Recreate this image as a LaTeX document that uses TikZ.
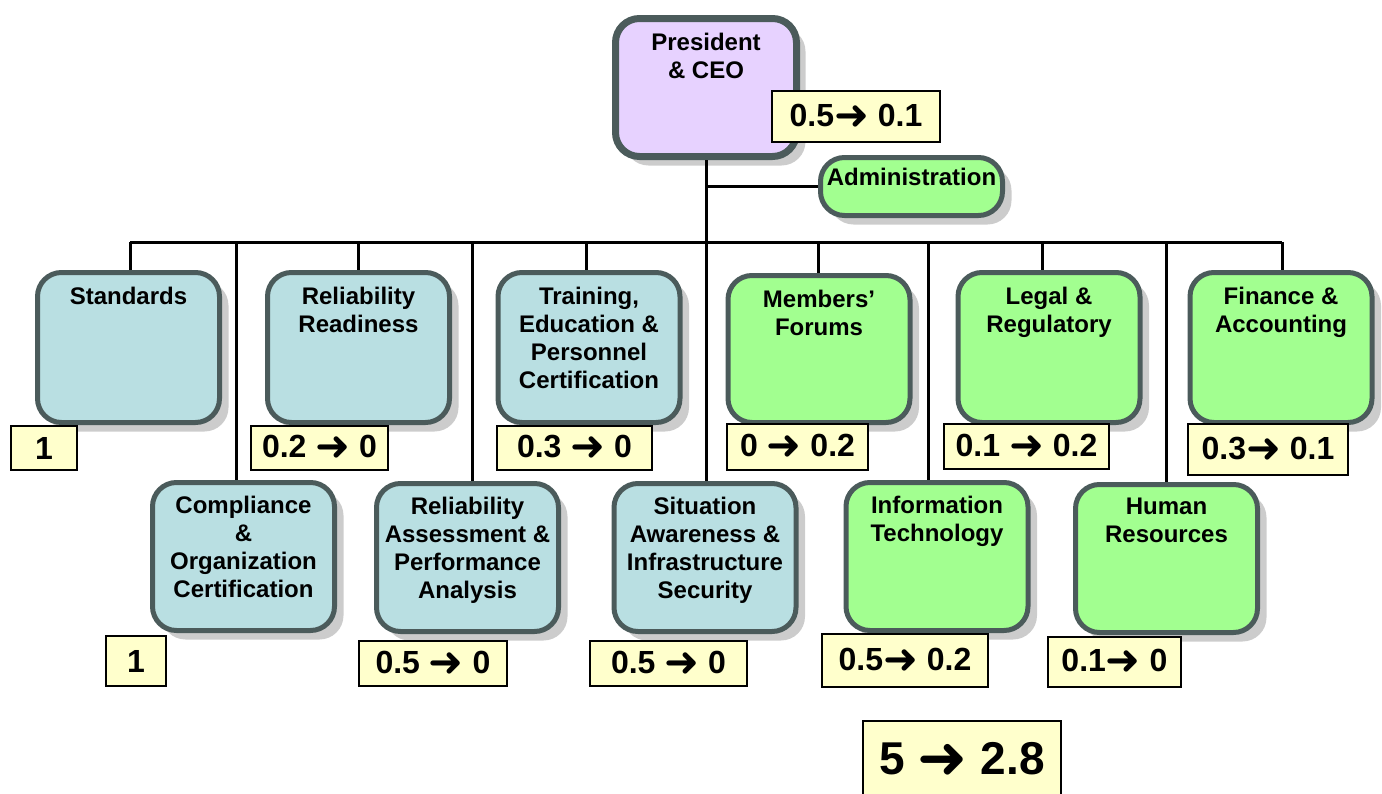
\documentclass[tikz,border=0pt]{standalone}
\usepackage{fontspec}
\usepackage{graphicx}
\setmainfont{Liberation Sans}
\newfontfamily\arrowfont{DejaVu Sans}
\usetikzlibrary{shadows}
\definecolor{unitblue}{HTML}{B9DFE2}
\definecolor{unitgreen}{HTML}{A2FF90}
\definecolor{unitlilac}{HTML}{E7D2FF}
\definecolor{tagyellow}{HTML}{FFFFCC}
\definecolor{rim}{HTML}{4B5B5B}
\newcommand{\arrowto}{{\arrowfont\raisebox{-0.1em}{\scalebox{1.3}{➜}}}}
\begin{document}
\begin{tikzpicture}[x=0.5pt, y=-0.5pt,
		unit/.style={rounded corners=12pt, draw=rim, line width=2.5pt, minimum width=91pt, minimum height=75pt,
			drop shadow={shadow xshift=4.5pt, shadow yshift=-4.5pt, opacity=1, fill=gray!40}},
		bluebox/.style={unit, fill=unitblue},
		greenbox/.style={unit, fill=unitgreen},
		unitname/.style={anchor=north, align=center, inner sep=0pt, font=\bfseries\fontsize{12}{14}\selectfont},
		tag/.style={draw=black, line width=1pt, fill=tagyellow, inner sep=0pt, font=\bfseries\fontsize{16}{18}\selectfont},
		wire/.style={line width=1.5pt}]
			\useasboundingbox (0,0) rectangle (1382,793);
			
			%top of the chart
			\node[unit, fill=unitlilac, line width=3.5pt, minimum width=90.5pt, minimum height=69pt] (ceo) at (706,87.5){};
			\node[unitname] (ceo-t) at ([yshift=-9pt]ceo.north){President\\\& CEO};
			\node[greenbox, minimum height=29pt] (admin) at (911.5,186.5){};
			\node[unitname] (admin-t) at ([yshift=-6.5pt]admin.north){Administration};
			
			%first row
			\node[bluebox] (std) at (128.5,347.5){};
			\node[bluebox] (rread) at (358.5,347.5){};
			\node[bluebox] (train) at (589,347.5){};
			\node[greenbox, minimum height=73.5pt] (memb) at (819,349){};
			\node[greenbox] (legal) at (1049,347.5){};
			\node[greenbox] (fin) at (1281,347.5){};
			\node[unitname] (std-t) at ([yshift=-8.5pt]std.north){Standards};
			\node[unitname] (rread-t) at ([yshift=-8.5pt]rread.north){Reliability\\Readiness};
			\node[unitname] (train-t) at ([yshift=-8.5pt]train.north){Training,\\Education \&\\Personnel\\Certification};
			\node[unitname] (memb-t) at ([yshift=-8.5pt]memb.north){Members’\\Forums};
			\node[unitname] (legal-t) at ([yshift=-8.5pt]legal.north){Legal \&\\Regulatory};
			\node[unitname] (fin-t) at ([yshift=-8.5pt]fin.north){Finance \&\\Accounting};
			
			%second row
			\node[bluebox, minimum height=74pt] (comp) at (243.5,556.5){};
			\node[bluebox, minimum height=74pt] (rassess) at (467.5,557.5){};
			\node[bluebox, minimum height=74pt] (situ) at (705,557.5){};
			\node[greenbox, minimum height=74pt] (it) at (937,556.5){};
			\node[greenbox, minimum height=74pt] (hr) at (1166.5,558.5){};
			\node[unitname] (comp-t) at ([yshift=-8pt]comp.north){Compliance\\\&\\Organization\\Certification};
			\node[unitname] (rassess-t) at ([yshift=-8pt]rassess.north){Reliability\\Assessment \&\\Performance\\Analysis};
			\node[unitname] (situ-t) at ([yshift=-8pt]situ.north){Situation\\Awareness \&\\Infrastructure\\Security};
			\node[unitname] (it-t) at ([yshift=-8pt]it.north){Information\\Technology};
			\node[unitname] (hr-t) at ([yshift=-8pt]hr.north){Human\\Resources};
			
			%connectors
			\foreach \b/\t in {std/130, rread/358, train/586, memb/818, legal/1042, fin/1282,
				comp/236, rassess/472, situ/706, it/928, hr/1166}{
				\coordinate (tap-\b) at (\t,242);
				\draw[wire] (tap-\b) -- (tap-\b |- \b.north);
			}
			\draw[wire] (tap-std) -- (tap-fin);
			\draw[wire] (ceo.south) -- (ceo.south |- tap-std);
			\draw[wire] (ceo.south |- admin.west) -- (admin.west);
			
			%values
			\node[tag, minimum width=84pt, minimum height=25.5pt] (ceo-v) at (856,116.5){0.5\arrowto{} 0.1};
			\node[tag, minimum width=33pt, minimum height=22pt] (std-v) at (44,448){1};
			\node[tag, minimum width=68.5pt, minimum height=22pt] (rread-v) at (319.5,448){0.2 \arrowto{} 0};
			\node[tag, minimum width=77.5pt, minimum height=22pt] (train-v) at (574.5,448){0.3 \arrowto{} 0};
			\node[tag, minimum width=70.5pt, minimum height=23pt] (memb-v) at (797.5,447){0 \arrowto{} 0.2};
			\node[tag, minimum width=82.5pt, minimum height=22.5pt] (legal-v) at (1026.5,446.5){0.1 \arrowto{} 0.2};
			\node[tag, minimum width=80pt, minimum height=25.5pt] (fin-v) at (1268,449.5){0.3\arrowto{} 0.1};
			\node[tag, minimum width=30pt, minimum height=25pt] (comp-v) at (136,661){1};
			\node[tag, minimum width=74pt, minimum height=22.5pt] (rassess-v) at (433,663.5){0.5 \arrowto{} 0};
			\node[tag, minimum width=78.5pt, minimum height=22.5pt] (situ-v) at (668.5,663.5){0.5 \arrowto{} 0};
			\node[tag, minimum width=83pt, minimum height=26.5pt] (it-v) at (905,660.5){0.5\arrowto{} 0.2};
			\node[tag, minimum width=66.5pt, minimum height=25pt] (hr-v) at (1114.5,662){0.1\arrowto{} 0};
			\node[tag, minimum width=99pt, minimum height=39.5pt, font=\bfseries\fontsize{23}{26}\selectfont] (total) at (962,760.5){5 \arrowto{} 2.8};
		\end{tikzpicture}
\end{document}
